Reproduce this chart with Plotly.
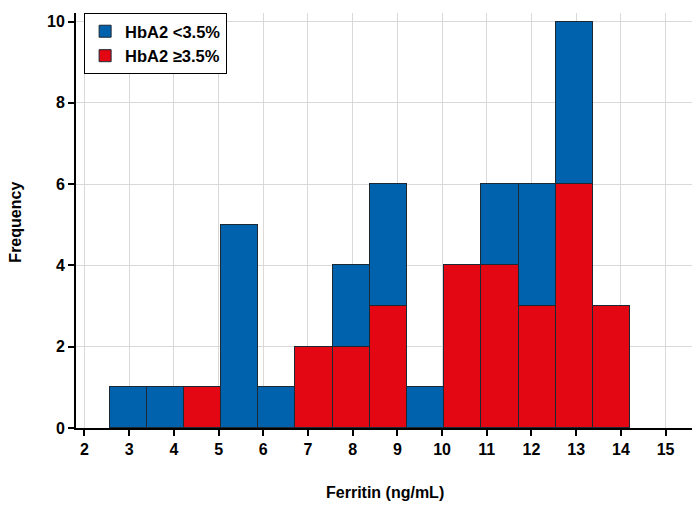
import plotly.graph_objects as go

# Histogram bins (Ferritin, ng/mL)
bin_start = 2.56
bin_width = 0.832
n_bins = 14
bin_centers = [bin_start + bin_width * (i + 0.5) for i in range(n_bins)]

# Counts per bin (stacked: red at bottom, blue on top)
counts_high = [0, 0, 1, 0, 0, 2, 2, 3, 0, 4, 4, 3, 6, 3]   # HbA2 >=3.5%
counts_low = [1, 1, 0, 5, 1, 0, 2, 3, 1, 0, 2, 3, 4, 0]    # HbA2 <3.5%

x_ticks = list(range(2, 16))
y_ticks = [0, 2, 4, 6, 8, 10]

BLUE = "#0062ad"
RED = "#e30613"
EDGE = "#1c2833"
FONT = "Liberation Sans"

fig = go.Figure()
fig.add_trace(go.Bar(
    x=bin_centers, y=counts_high, width=bin_width, name="<b>HbA2 ≥3.5%</b>",
    marker=dict(color=RED, line=dict(color=EDGE, width=1)),
))
fig.add_trace(go.Bar(
    x=bin_centers, y=counts_low, width=bin_width, name="<b>HbA2 <3.5%</b>",
    marker=dict(color=BLUE, line=dict(color=EDGE, width=1)),
))

fig.update_layout(
    template="none",
    width=692, height=497,
    barmode="stack",
    bargap=0,
    plot_bgcolor="white",
    paper_bgcolor="white",
    margin=dict(l=68, r=0, t=5, b=77, autoexpand=False),
    font=dict(family=FONT, size=16, color="black"),
    showlegend=True,
    legend=dict(
        x=0.013, y=1.0, xanchor="left", yanchor="top",
        traceorder="reversed",
        bgcolor="white", bordercolor="black", borderwidth=1,
        font=dict(family=FONT, size=16.5, color="black"),
        itemwidth=30,
        tracegroupgap=0,
    ),
    xaxis=dict(
        range=[1.81, 15.77], automargin=False,
        tickmode="array", tickvals=x_ticks,
        ticktext=[f"<b>{t}</b>" for t in x_ticks],
        ticks="outside", ticklen=6, tickwidth=1.5, tickcolor="black",
        showline=True, linecolor="black", linewidth=2,
        showgrid=True, gridcolor="#d9d9d9", gridwidth=1,
        zeroline=False,
        tickfont=dict(size=16),
    ),
    yaxis=dict(
        range=[0, 10.21], automargin=False,
        tickmode="array", tickvals=y_ticks,
        ticktext=[f"<b>{t}</b>" for t in y_ticks],
        ticks="outside", ticklen=6, tickwidth=1.5, tickcolor="black",
        showline=True, linecolor="black", linewidth=2,
        showgrid=True, gridcolor="#d9d9d9", gridwidth=1,
        zeroline=False,
        tickfont=dict(size=16),
    ),
    annotations=[
        dict(text="<b>Ferritin (ng/mL)</b>", xref="paper", yref="paper",
             x=0.495, y=-0.156, xanchor="center", yanchor="middle",
             showarrow=False, font=dict(size=16)),
        dict(text="<b>Frequency</b>", xref="paper", yref="paper",
             x=-0.097, y=0.496, xanchor="center", yanchor="middle",
             textangle=-90, showarrow=False, font=dict(size=16)),
    ],
)

fig.write_html("out.html")
